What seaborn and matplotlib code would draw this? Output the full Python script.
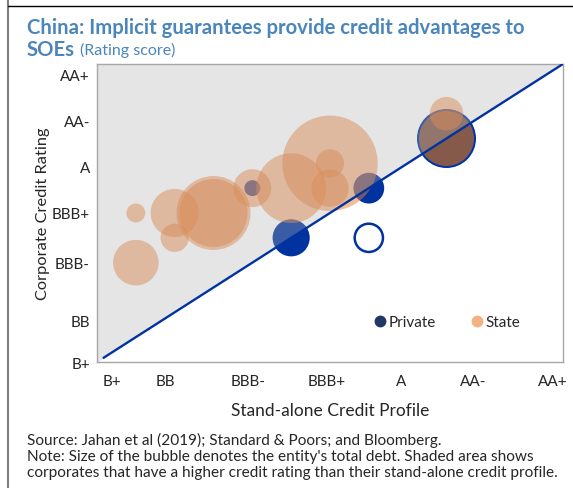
import pandas as pd
import matplotlib.pyplot as plt
import matplotlib.transforms as mtransforms
import seaborn as sns
from matplotlib.lines import Line2D

# rating scale (notches above B+)
tick_vals = [0, 2, 4, 6, 8, 10, 12]
tick_labels = ["B+", "BB", "BBB-", "BBB+", "A", "AA-", "AA+"]

# state-owned entities: stand-alone profile, corporate rating, total debt (relative)
state_x = [1, 2, 2, 1, 3, 3, 4, 5, 6, 6, 6, 9, 9]
state_y = [6, 6, 5, 4, 6, 6, 7, 7, 8, 8, 7, 10, 9]
state_debt = [9, 58, 20, 52, 137, 116, 36, 122, 228, 20, 35, 28, 76]

# private corporates
private_x = [5, 7, 7, 7, 7, 4, 9]
private_y = [5, 7, 7, 7, 5, 7, 9]
private_debt = [30, 20, 10, 4, 20, 4.5, 80]
private_fill = ["blue", "blue", "blue", "blue", "hollow", "blue", "navy"]

state = pd.DataFrame({"sacp": state_x, "rating": state_y, "debt": state_debt})
private = pd.DataFrame({"sacp": private_x, "rating": private_y,
                        "debt": private_debt, "fill": private_fill})

sns.set_style("white")
plt.rcParams["font.family"] = ["Lato", "DejaVu Sans"]

fig = plt.figure(figsize=(5.73, 4.89), dpi=100)
ax = fig.add_axes([0.1693, 0.2577, 0.8132, 0.6094])

blue = "#0033A0"
size_kw = dict(size="debt", sizes=(0, 5175), size_norm=(0, 250), legend=False)

sns.scatterplot(data=private, x="sacp", y="rating", hue="fill",
                palette={"blue": blue, "navy": "#1F3864", "hollow": "white"},
                edgecolor=blue, linewidth=1.8, zorder=2, ax=ax, **size_kw)
sns.scatterplot(data=state, x="sacp", y="rating", color="#ED7D31",
                alpha=0.5, linewidth=0, zorder=3, ax=ax, **size_kw)

# shaded area: rating above stand-alone profile
ax.fill_between([0, 12], [0, 12], [12, 12], color="#B0B0B0", alpha=0.33,
                linewidth=0, zorder=4)
ax.plot([0.15, 12], [0.15, 12], color=blue, lw=1.7, zorder=5,
        solid_capstyle="butt")

ax.set_xlim(0, 12)
ax.set_ylim(0, 12)
ax.set_xticks(tick_vals)
ax.set_xticklabels(tick_labels)
ax.set_yticks(tick_vals)
ax.set_yticklabels(tick_labels)
ax.tick_params(axis="x", length=0, pad=9, labelsize=11)
ax.tick_params(axis="y", length=0, pad=5, labelsize=11)
for s in ax.spines.values():
    s.set_color("#A6A6A6")
    s.set_linewidth(1)

# label nudges (pixels) to follow the original's hand-placed labels
x_shift = [15, -9, -4, -3, -7, -12, -10]
y_shift = [-1, -8, 0, 0, -3, -7, -11]
for lab, dx in zip(ax.get_xticklabels(), x_shift):
    lab.set_transform(lab.get_transform() + mtransforms.ScaledTranslation(dx / 100, 0, fig.dpi_scale_trans))
for lab, dy in zip(ax.get_yticklabels(), y_shift):
    lab.set_transform(lab.get_transform() + mtransforms.ScaledTranslation(0, dy / 100, fig.dpi_scale_trans))

ax.set_xlabel("Stand-alone Credit Profile", fontsize=12.5)
ax.set_ylabel("Corporate Credit Rating", fontsize=11.8)
ax.xaxis.set_label_coords(0.5, -0.134)
ax.yaxis.set_label_coords(-0.1, 0.5)

handles = [Line2D([], [], marker="o", ls="", color="#1F3864", markersize=7.5),
           Line2D([], [], marker="o", ls="", color="#F4B183", markersize=7.5)]
ax.legend(handles, ["Private", "State"], loc="center left",
          bbox_to_anchor=(0.561, 0.134), ncol=2, frameon=False, fontsize=11,
          handletextpad=0.05, handlelength=1.0, columnspacing=2.25)

title_color = "#4A86BC"
fig.text(0.047, 0.943, "China: Implicit guarantees provide credit advantages to",
         fontsize=14.6, fontweight="bold", color=title_color, va="center")
soes = fig.text(0.047, 0.898, "SOEs", fontsize=14.6, fontweight="bold",
                color=title_color, va="center")
plt.annotate("(Rating score)", xy=(1, 0.24), xycoords=soes, xytext=(4, 0),
             textcoords="offset points", fontsize=11.5, color=title_color,
             va="baseline")

fig.text(0.047, 0.1145,
         "Source: Jahan et al (2019); Standard & Poors; and Bloomberg.\n"
         "Note: Size of the bubble denotes the entity's total debt. Shaded area shows\n"
         "corporates that have a higher credit rating than their stand-alone credit profile.",
         fontsize=11.1, va="top", linespacing=1.2)

# outer frame
fig.add_artist(Line2D([0.014, 0.014], [0, 1], color="#7F7F7F", lw=1.5))
fig.add_artist(Line2D([0.014, 1], [0.986, 0.986], color="black", lw=1))

fig.savefig("out.png", dpi=100)
